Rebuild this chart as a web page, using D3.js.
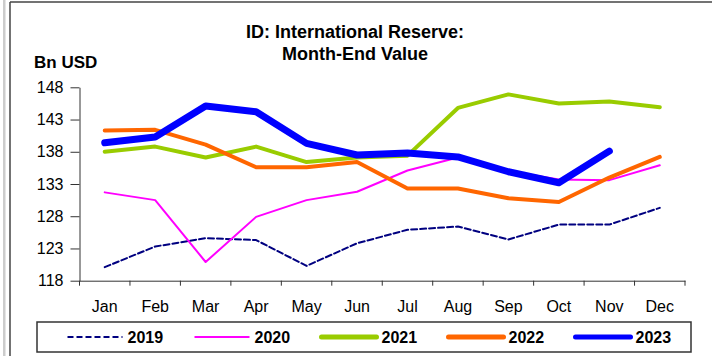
<!DOCTYPE html>
<html><head><meta charset="utf-8">
<script src="https://cdn.jsdelivr.net/npm/d3@7"></script>
<style>body{margin:0;background:#fff;} svg{display:block;font-family:Arial,"Liberation Sans",sans-serif;}</style>
</head><body>
<svg id="c" width="712" height="356"></svg>
<script>
const months = ["Jan","Feb","Mar","Apr","May","Jun","Jul","Aug","Sep","Oct","Nov","Dec"];
const yTicks = [118,123,128,133,138,143,148];
const v2019 = [120.1,123.3,124.6,124.3,120.3,123.8,125.9,126.4,124.4,126.7,126.7,129.3];
const v2020 = [131.7,130.5,120.9,127.9,130.5,131.8,135.1,137.1,135.0,133.7,133.6,135.9];
const v2021 = [138.0,138.8,137.1,138.8,136.4,137.1,137.4,144.8,146.9,145.5,145.8,144.9];
const v2022 = [141.3,141.4,139.1,135.6,135.6,136.4,132.3,132.3,130.8,130.2,134.0,137.2];
const v2023 = [139.4,140.3,145.1,144.2,139.3,137.5,137.8,137.2,134.9,133.2,138.1];
const seriesNames = ["2019","2020","2021","2022","2023"];
const seriesValues = [v2019,v2020,v2021,v2022,v2023];
const colors = ["#000080","#FF00FF","#99CC00","#FF6600","#0000FF"];
const widths = [2,2,4,4,7];
const dashes = ["6,3",null,null,null,null];

const svg = d3.select("#c");
// frame
svg.append("rect").attr("x",3).attr("y",0).attr("width",2.5).attr("height",356).attr("fill","#ccc");
svg.append("line").attr("x1",10).attr("x2",10).attr("y1",2).attr("y2",356).attr("stroke","#444").attr("stroke-width",1.5);
svg.append("line").attr("x1",10).attr("x2",712).attr("y1",2).attr("y2",2).attr("stroke","#444").attr("stroke-width",1.5);

const x = d3.scaleBand().domain(months).range([79.5,685]);
const y = d3.scaleLinear().domain([118,148]).range([280.7,87.3]);

// title
svg.append("text").attr("x",355).attr("y",38).attr("text-anchor","middle").attr("font-weight","bold").attr("font-size",18).text("ID: International Reserve:");
svg.append("text").attr("x",355).attr("y",59.5).attr("text-anchor","middle").attr("font-weight","bold").attr("font-size",18).text("Month-End Value");
svg.append("text").attr("x",34).attr("y",68).attr("font-weight","bold").attr("font-size",17).text("Bn USD");

// y axis
const ya = svg.append("g").attr("transform","translate(79.5,0)")
  .call(d3.axisLeft(y).tickValues(yTicks).tickSize(9).tickSizeOuter(0).tickPadding(7));
ya.selectAll("text").attr("font-size",16).attr("fill","#000").style("font-family","Arial,'Liberation Sans',sans-serif");
ya.selectAll("line,path").attr("stroke","#333");

// x axis
const xa = svg.append("g").attr("transform","translate(0,280.7)")
  .call(d3.axisBottom(x).tickSize(0).tickPadding(20));
xa.selectAll("text").attr("font-size",16).attr("fill","#000").style("font-family","Arial,'Liberation Sans',sans-serif");
xa.select("path").attr("stroke","#333");
const bounds = months.map(m=>x(m)).concat([x.range()[1]]);
xa.selectAll(".bt").data(bounds).enter().append("line").attr("class","bt")
  .attr("x1",d=>d).attr("x2",d=>d).attr("y1",0).attr("y2",5).attr("stroke","#333");

// lines
const line = d3.line().defined(d=>d!=null).x((d,i)=>x(months[i])+x.bandwidth()/2).y(d=>y(d));
seriesValues.forEach((vals,k)=>{
  svg.append("path").datum(vals).attr("d",line).attr("fill","none")
    .attr("stroke",colors[k]).attr("stroke-width",widths[k])
    .attr("stroke-dasharray",dashes[k]).attr("stroke-linejoin","round").attr("stroke-linecap","round");
});

// legend
svg.append("rect").attr("x",37).attr("y",322).attr("width",654).attr("height",30).attr("fill","none").attr("stroke","#333").attr("stroke-width",1.5);
const lx = d3.scaleLinear().domain([0,1]).range([67.5,194.5]);
seriesNames.forEach((n,k)=>{
  const x0 = lx(k);
  svg.append("line").attr("x1",x0).attr("x2",x0+55).attr("y1",337).attr("y2",337)
    .attr("stroke",colors[k]).attr("stroke-width",k>=2?5:2).attr("stroke-dasharray",dashes[k]).attr("stroke-linecap",k>=2?"round":"butt");
  svg.append("text").attr("x",x0+60).attr("y",337).attr("dy","0.35em").attr("font-weight","bold").attr("font-size",16).text(n);
});
</script>
</body></html>
